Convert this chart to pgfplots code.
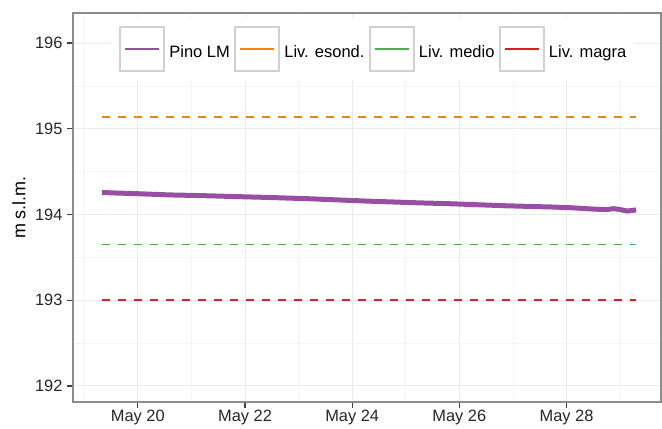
\documentclass[border=0pt]{standalone}
\usepackage{fontspec}
\setmainfont{Liberation Sans}
\usepackage{pgfplots}
\pgfplotsset{compat=1.18}
\definecolor{cpurple}{HTML}{984EA3}
\definecolor{corange}{HTML}{FF7F00}
\definecolor{cgreen}{HTML}{4DAF4A}
\definecolor{cred}{HTML}{E41A1C}
\definecolor{cframe}{HTML}{8C8C8C}
\definecolor{cbox}{HTML}{D0D0D0}
\definecolor{cmajor}{HTML}{EBEBEB}
\definecolor{cminor}{HTML}{F5F5F5}
\begin{document}
\begin{tikzpicture}
\begin{axis}[
  scale only axis, width=588bp, height=389bp,
  xmin=18.79, xmax=29.763, ymin=191.813, ymax=196.35,
  xtick={20,22,24,26,28},
  xticklabels={May 20,May 22,May 24,May 26,May 28},
  minor xtick={19,21,23,25,27,29},
  ytick={192,193,194,195,196},
  minor ytick={192.5,193.5,194.5,195.5},
  grid=both,
  major grid style={cmajor, line width=1bp},
  minor grid style={cminor, line width=0.6bp},
  minor tick length=0pt, major tick length=6bp,
  tick align=outside, xtick pos=bottom, ytick pos=left,
  tick style={color=black!75, line width=1.2bp},
  axis line style={draw=cframe, line width=1.5bp},
  /pgf/number format/assume math mode=true,
  ticklabel style={font=\fontsize{16.4bp}{19bp}\selectfont, color=black!85},
  yticklabel style={xshift=-1bp},
  xticklabel style={yshift=1bp},
  ylabel={m s.l.m.},
  ylabel style={at={(rel axis cs:0,0.5)}, anchor=center, yshift=54bp, font=\fontsize{18bp}{21bp}\selectfont},
  legend columns=4,
  legend style={at={(0.5099,0.987)}, anchor=north, draw=none, fill=white,
    inner xsep=8bp, inner ysep=8bp,
    font=\fontsize{16.5bp}{19bp}\selectfont,
    nodes={inner sep=0pt},
    /tikz/every odd column/.append style={column sep=4bp},
    /tikz/every even column/.append style={column sep=4.5bp}},
  legend image code/.code={
    \draw[cbox, line width=2bp, fill=white, solid] (0bp,-19bp) rectangle (44bp,25bp);
    \draw[#1, solid, line width=2bp] (5bp,3bp) -- (39bp,3bp);
  },
]
\addplot[cpurple, line width=5bp, line join=round] coordinates {
(19.33,194.257) (19.60,194.25) (19.89,194.245) (20.30,194.235) (20.60,194.228)
(21.20,194.22) (21.76,194.21) (22.47,194.198) (23.22,194.183) (23.80,194.168)
(24.33,194.155) (24.80,194.145) (25.27,194.135) (25.75,194.127) (26.20,194.117)
(26.85,194.102) (27.30,194.094) (27.69,194.088) (28.10,194.078) (28.44,194.065)
(28.75,194.056) (28.87,194.068) (28.98,194.06) (29.13,194.04) (29.30,194.053)
};
\addlegendentry{Pino LM}
\addplot[corange, line width=1.6bp, dash pattern=on 8bp off 8bp] coordinates {(19.33,195.14) (29.29,195.14)};
\addlegendentry{Liv. esond.}
\addplot[cgreen, line width=1.6bp, dash pattern=on 8bp off 8bp] coordinates {(19.33,193.65) (29.29,193.65)};
\addlegendentry{Liv. medio}
\addplot[cred, line width=1.6bp, dash pattern=on 8bp off 8bp] coordinates {(19.33,193.0) (29.29,193.0)};
\addlegendentry{Liv. magra}
\coordinate (sw) at (rel axis cs:0,0);
\coordinate (ne) at (rel axis cs:1,1);
\end{axis}
\pgfresetboundingbox
\path[use as bounding box] ([xshift=-73bp,yshift=-27bp]sw) rectangle ([xshift=1bp,yshift=13bp]ne);
\end{tikzpicture}
\end{document}
